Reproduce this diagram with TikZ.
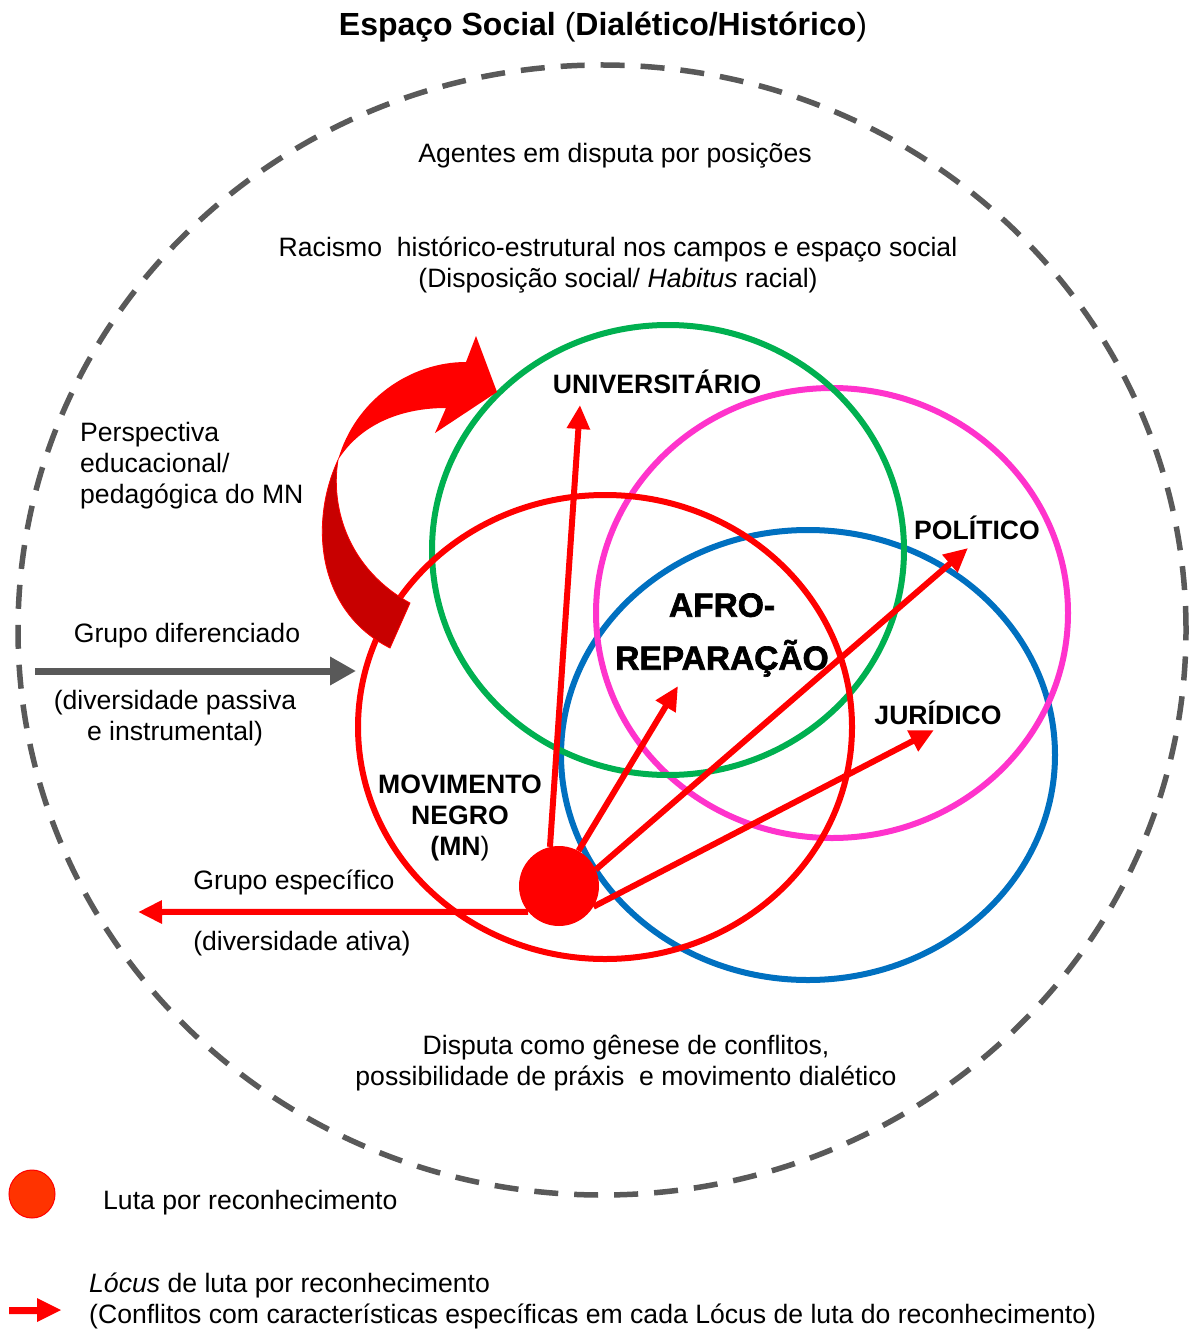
\documentclass[tikz,border=0pt]{standalone}
\usepackage{fontspec}
\setmainfont{Liberation Sans}
\newfontfamily\afrofont[FakeBold=2]{Liberation Sans Bold}
\usetikzlibrary{arrows.meta,shapes.geometric}
\definecolor{ringgreen}{HTML}{00B050}
\definecolor{ringpink}{HTML}{FF33CC}
\definecolor{ringblue}{HTML}{0070C0}
\definecolor{ringred}{HTML}{FF0000}
\definecolor{darkred}{HTML}{C80000}
\definecolor{edgegray}{HTML}{595959}
\definecolor{legendorange}{HTML}{FF3300}

\begin{document}
\begin{tikzpicture}[x=1pt,y=-1pt,
  txt/.style={inner sep=0pt, font=\fontsize{26.6}{31}\selectfont, align=center},
  lbl/.style={inner sep=0pt, font=\fontsize{26.6}{31}\selectfont\bfseries, align=center},
  ring/.style={line width=6pt},
  locus/.style={draw=ringred, line width=6pt, -{Triangle[length=24pt,width=22pt]}},
]
\useasboundingbox[fill=white] (0,0) rectangle (1189,1329);

% social space (dashed boundary)
\draw[edgegray, line width=5.5pt, dash pattern=on 24pt off 16pt]
  (602,630) ellipse [x radius=584pt, y radius=565pt];

% fields
\draw[ring, ringblue]  (808,755) ellipse [x radius=247pt, y radius=225pt];
\draw[ring, ringpink]  (832,613) ellipse [x radius=236pt, y radius=225pt];
\draw[ring, ringgreen] (668,550) ellipse [x radius=236pt, y radius=225pt];
\draw[ring, ringred]   (605,727) ellipse [x radius=247pt, y radius=232pt];

% curved block arrow (educational perspective)
\fill[darkred, draw=ringred, line width=0.8pt]
  (338,460) .. controls (310,520) and (315,610) .. (390,648)
  -- (410,603) .. controls (350,570) and (330,510) .. (338,460) -- cycle;
\fill[ringred]
  (338,460) .. controls (355,400) and (410,362) .. (466,362)
  -- (476,336) -- (497,392) -- (435,433) -- (446,408)
  .. controls (400,408) and (360,425) .. (338,460) -- cycle;

% texts
\node[inner sep=0pt, font=\fontsize{32}{38}\selectfont] (title) at (603,27)
  {\textbf{Espaço Social} (\textbf{Dialético/Histórico})};
\node[txt] (agentes) at (615,156) {Agentes em disputa por posições};
\node[txt] (racismo) at (618,265)
  {Racismo\ \ histórico-estrutural nos campos e espaço social\\(Disposição social/ \textit{Habitus} racial)};
\node[txt, align=left, anchor=west] (persp) at (80,466)
  {Perspectiva\\educacional/\\pedagógica do MN};
\node[txt] (grupodif) at (187,636) {Grupo diferenciado};
\node[txt] (passiva) at (175,718) {(diversidade passiva\\e instrumental)};
\node[txt] (grupoesp) at (294,882) {Grupo específico};
\node[txt] (ativa) at (302,944) {(diversidade ativa)};
\node[lbl] (mn) at (460,818) {MOVIMENTO\\NEGRO\\(MN\textmd{)}};
\node[lbl] (univ) at (657,382) {UNIVERSITÁRIO};
\node[lbl] (pol) at (977,528) {POLÍTICO};
\node[lbl] (jur) at (938,713) {JURÍDICO};
\node[inner sep=0pt, font=\fontsize{33.5}{53}\afrofont, align=center] (afro) at (722,635)
  {AFRO-\\REPARAÇÃO};
\node[txt] (disputa) at (626,1063)
  {Disputa como gênese de conflitos,\\possibilidade de práxis\ \ e movimento dialético};

% passive group arrow
\coordinate (gstart) at (35,671);
\coordinate (gend) at (356,671);
\draw[edgegray, line width=7pt, -{Triangle[length=26pt,width=27pt]}] (gstart) -- (gend);

% struggle for recognition and its loci
\node[circle, fill=ringred, minimum size=80pt, inner sep=0pt] (dot) at (559,886) {};
\coordinate (tipU) at (580,405);
\coordinate (tipC) at (678,686);
\coordinate (tipP) at (968,548);
\coordinate (tipJ) at (934,730);
\coordinate (tipL) at (138,912);
\draw[locus] (dot.103) -- (tipU);
\draw[locus] (dot.61) -- (tipC);
\draw[locus] (dot.24) -- (tipP);
\draw[locus] (dot.-31) -- (tipJ);
\draw[locus] (dot.220) -- (tipL);

% legend
\node[ellipse, minimum width=46pt, minimum height=48pt, inner sep=0pt,
  fill=legendorange, draw=ringred, line width=1pt] (legdot) at (32,1194) {};
\node[txt, anchor=west] (legdottxt) at (103,1203) {Luta por reconhecimento};
\fill[ringred] (9,1307) -- (37,1307) -- (37,1298) -- (61,1310) -- (37,1322)
  -- (37,1314) -- (9,1314) -- cycle;
\node[txt, align=left, anchor=west] (legarrtxt) at (89,1301)
  {\textit{Lócus} de luta por reconhecimento\\(Conflitos com características específicas em cada Lócus de luta do reconhecimento)};
\end{tikzpicture}
\end{document}
